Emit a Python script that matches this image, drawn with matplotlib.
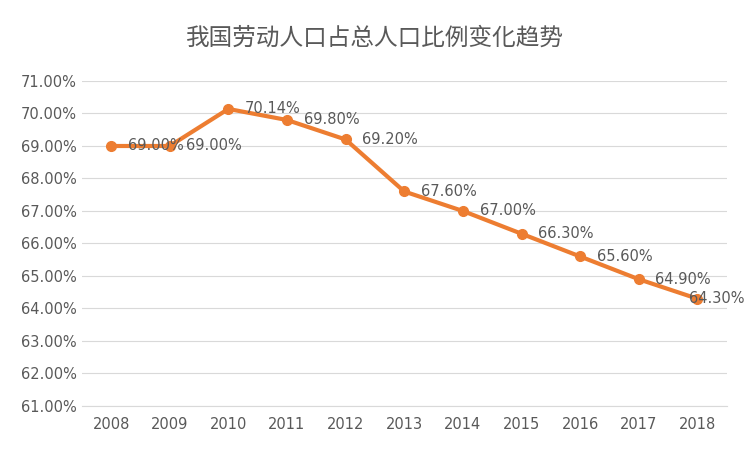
import matplotlib
matplotlib.use("Agg")
import matplotlib.pyplot as plt
from matplotlib import font_manager
from matplotlib.ticker import FuncFormatter

# 找一个可用的中文字体
available = {f.name for f in font_manager.fontManager.ttflist}
cjk = [n for n in ["Noto Sans CJK SC", "Noto Sans CJK JP", "Noto Sans CJK TC",
                   "Noto Sans CJK KR", "Noto Sans SC"] if n in available]
plt.rcParams["font.family"] = ["DejaVu Sans"] + cjk

# ---------------- 数据 ----------------
TITLE = "我国劳动人口占总人口比例变化趋势"
years = ["2008", "2009", "2010", "2011", "2012", "2013",
         "2014", "2015", "2016", "2017", "2018"]
ratio = [69.00, 69.00, 70.14, 69.80, 69.20, 67.60,
         67.00, 66.30, 65.60, 64.90, 64.30]
y_ticks = [61, 62, 63, 64, 65, 66, 67, 68, 69, 70, 71]

LINE_COLOR = "#ED7D31"
TEXT_COLOR = "#595959"

fig = plt.figure(figsize=(7.5, 4.49), dpi=100)
ax = fig.add_axes([0.109, 0.0958, 0.86, 0.7238])

x = list(range(len(years)))
ax.plot(x, ratio, color=LINE_COLOR, lw=3, marker="o", ms=7, zorder=3)
for i, (xi, v) in enumerate(zip(x, ratio)):
    dx = -6 if i == len(x) - 1 else 12
    ax.annotate(f"{v:.2f}%", (xi, v), xytext=(dx, 0), textcoords="offset points",
                ha="left", va="center", fontsize=10.5, color=TEXT_COLOR, zorder=4)

ax.set_xlim(-0.5, len(years) - 0.5)
ax.set_ylim(61, 71)
ax.set_xticks(x)
ax.set_xticklabels(years)
ax.set_yticks(y_ticks)
ax.yaxis.set_major_formatter(FuncFormatter(lambda v, _: f"{v:.2f}%"))
ax.tick_params(length=0, labelsize=10.5, labelcolor=TEXT_COLOR)
ax.tick_params(axis="x", pad=8)
ax.grid(axis="y", color="#D9D9D9", lw=0.8)
ax.set_axisbelow(True)
for s in ["top", "right", "left"]:
    ax.spines[s].set_visible(False)
ax.spines["bottom"].set_color("#D9D9D9")

fig.text(0.5, 0.915, TITLE, ha="center", va="center", fontsize=17, color=TEXT_COLOR,
         fontfamily=cjk + ["DejaVu Sans"])

fig.savefig("out.png", dpi=100)
